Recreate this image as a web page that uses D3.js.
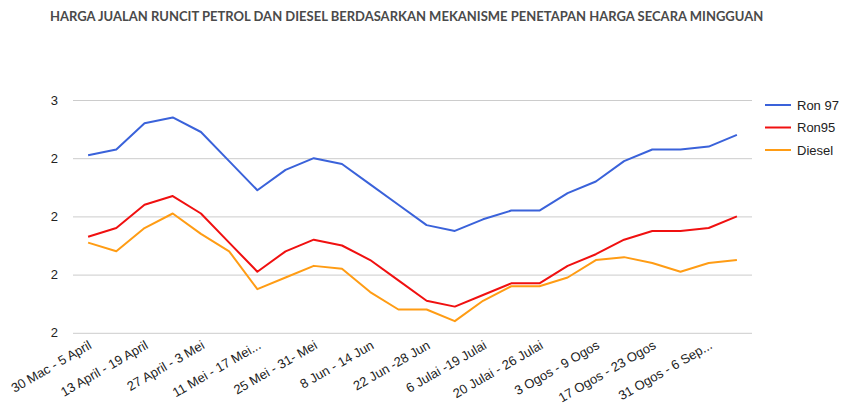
<!DOCTYPE html>
<html><head><meta charset="utf-8">
<script src="https://cdn.jsdelivr.net/npm/d3@7"></script>
<style>body{margin:0;background:#fff}svg{display:block}</style>
</head><body>
<script>
const title = "HARGA JUALAN RUNCIT PETROL DAN DIESEL BERDASARKAN MEKANISME PENETAPAN HARGA SECARA MINGGUAN";
const categories = ["30 Mac - 5 April","6 April - 12 April","13 April - 19 April","20 April - 26 April","27 April - 3 Mei","4 Mei - 10 Mei","11 Mei - 17 Mei...","18 Mei - 24 Mei","25 Mei - 31- Mei","1 Jun - 7 Jun","8 Jun - 14 Jun","15 Jun - 21 Jun","22 Jun -28 Jun","29 Jun - 5 Julai","6 Julai -19 Julai","13 Julai - 19 Julai","20 Julai - 26 Julai","27 Julai - 2 Ogos","3 Ogos - 9 Ogos","10 Ogos - 16 Ogos","17 Ogos - 23 Ogos","24 Ogos - 30 Ogos","31 Ogos - 6 Sep...","7 Sep - 13 Sep"];
const ron97 = [2.41,2.43,2.52,2.54,2.49,2.39,2.29,2.36,2.40,2.38,2.31,2.24,2.17,2.15,2.19,2.22,2.22,2.28,2.32,2.39,2.43,2.43,2.44,2.48];
const ron95 = [2.13,2.16,2.24,2.27,2.21,2.11,2.01,2.08,2.12,2.10,2.05,1.98,1.91,1.89,1.93,1.97,1.97,2.03,2.07,2.12,2.15,2.15,2.16,2.20];
const diesel = [2.11,2.08,2.16,2.21,2.14,2.08,1.95,1.99,2.03,2.02,1.94,1.88,1.88,1.84,1.91,1.96,1.96,1.99,2.05,2.06,2.04,2.01,2.04,2.05];
const seriesNames = ["Ron 97","Ron95","Diesel"];
const seriesColors = ["#3a62da","#f01010","#ff9c14"];
const yTicks = [1.8,2.0,2.2,2.4,2.6];

const W=850,H=408;
const svg=d3.select("body").append("svg").attr("width",W).attr("height",H);
const pL=74,pR=751,pT=100,pB=332.8;
const x=d3.scalePoint().domain(categories).range([pL,pR]).padding(0.5);
const y=d3.scaleLinear().domain([1.8,2.6]).range([pB,pT]);

svg.append("text").attr("x",50).attr("y",21).text(title)
  .attr("font-family","Lato").attr("font-weight","bold").attr("font-size",13).attr("fill","#4a4a4a");

// grid + y axis
const ya=svg.append("g").attr("transform",`translate(${pL-1},0)`)
  .call(d3.axisLeft(y).tickValues(yTicks).tickFormat(d3.format(".0f")).tickSize(-(pR-pL+2)).tickPadding(15));
ya.select(".domain").remove();
ya.selectAll(".tick line").attr("stroke","#cccccc");
ya.selectAll(".tick text").attr("font-family","Liberation Sans, Arial").attr("font-size",13).attr("fill","#222");

// x axis labels
const xa=svg.append("g").attr("transform",`translate(0,${pB})`)
  .call(d3.axisBottom(x).tickValues(categories.filter((d,i)=>i%2===0)).tickSize(0));
xa.select(".domain").remove();
xa.selectAll(".tick text").attr("font-family","Liberation Sans, Arial").attr("font-size",13).attr("fill","#222")
  .attr("text-anchor","end").attr("dy",null).attr("y",0)
  .attr("transform","translate(4,15) rotate(-30)");

const data=[ron97,ron95,diesel];
const line=d3.line().x((d,i)=>x(categories[i])).y(d=>y(d));
data.forEach((s,k)=>{
  svg.append("path").datum(s).attr("d",line).attr("fill","none")
    .attr("stroke",seriesColors[k]).attr("stroke-width",2).attr("stroke-linejoin","round");
});

const lg=svg.append("g");
seriesNames.forEach((n,k)=>{
  const yy=105+k*22.5;
  lg.append("line").attr("x1",765).attr("x2",791).attr("y1",yy).attr("y2",yy)
    .attr("stroke",seriesColors[k]).attr("stroke-width",2);
  lg.append("text").attr("x",797).attr("y",yy).attr("dy","0.35em").text(n)
    .attr("font-family","Liberation Sans, Arial").attr("font-size",13).attr("fill","#222");
});
</script>
</body></html>
